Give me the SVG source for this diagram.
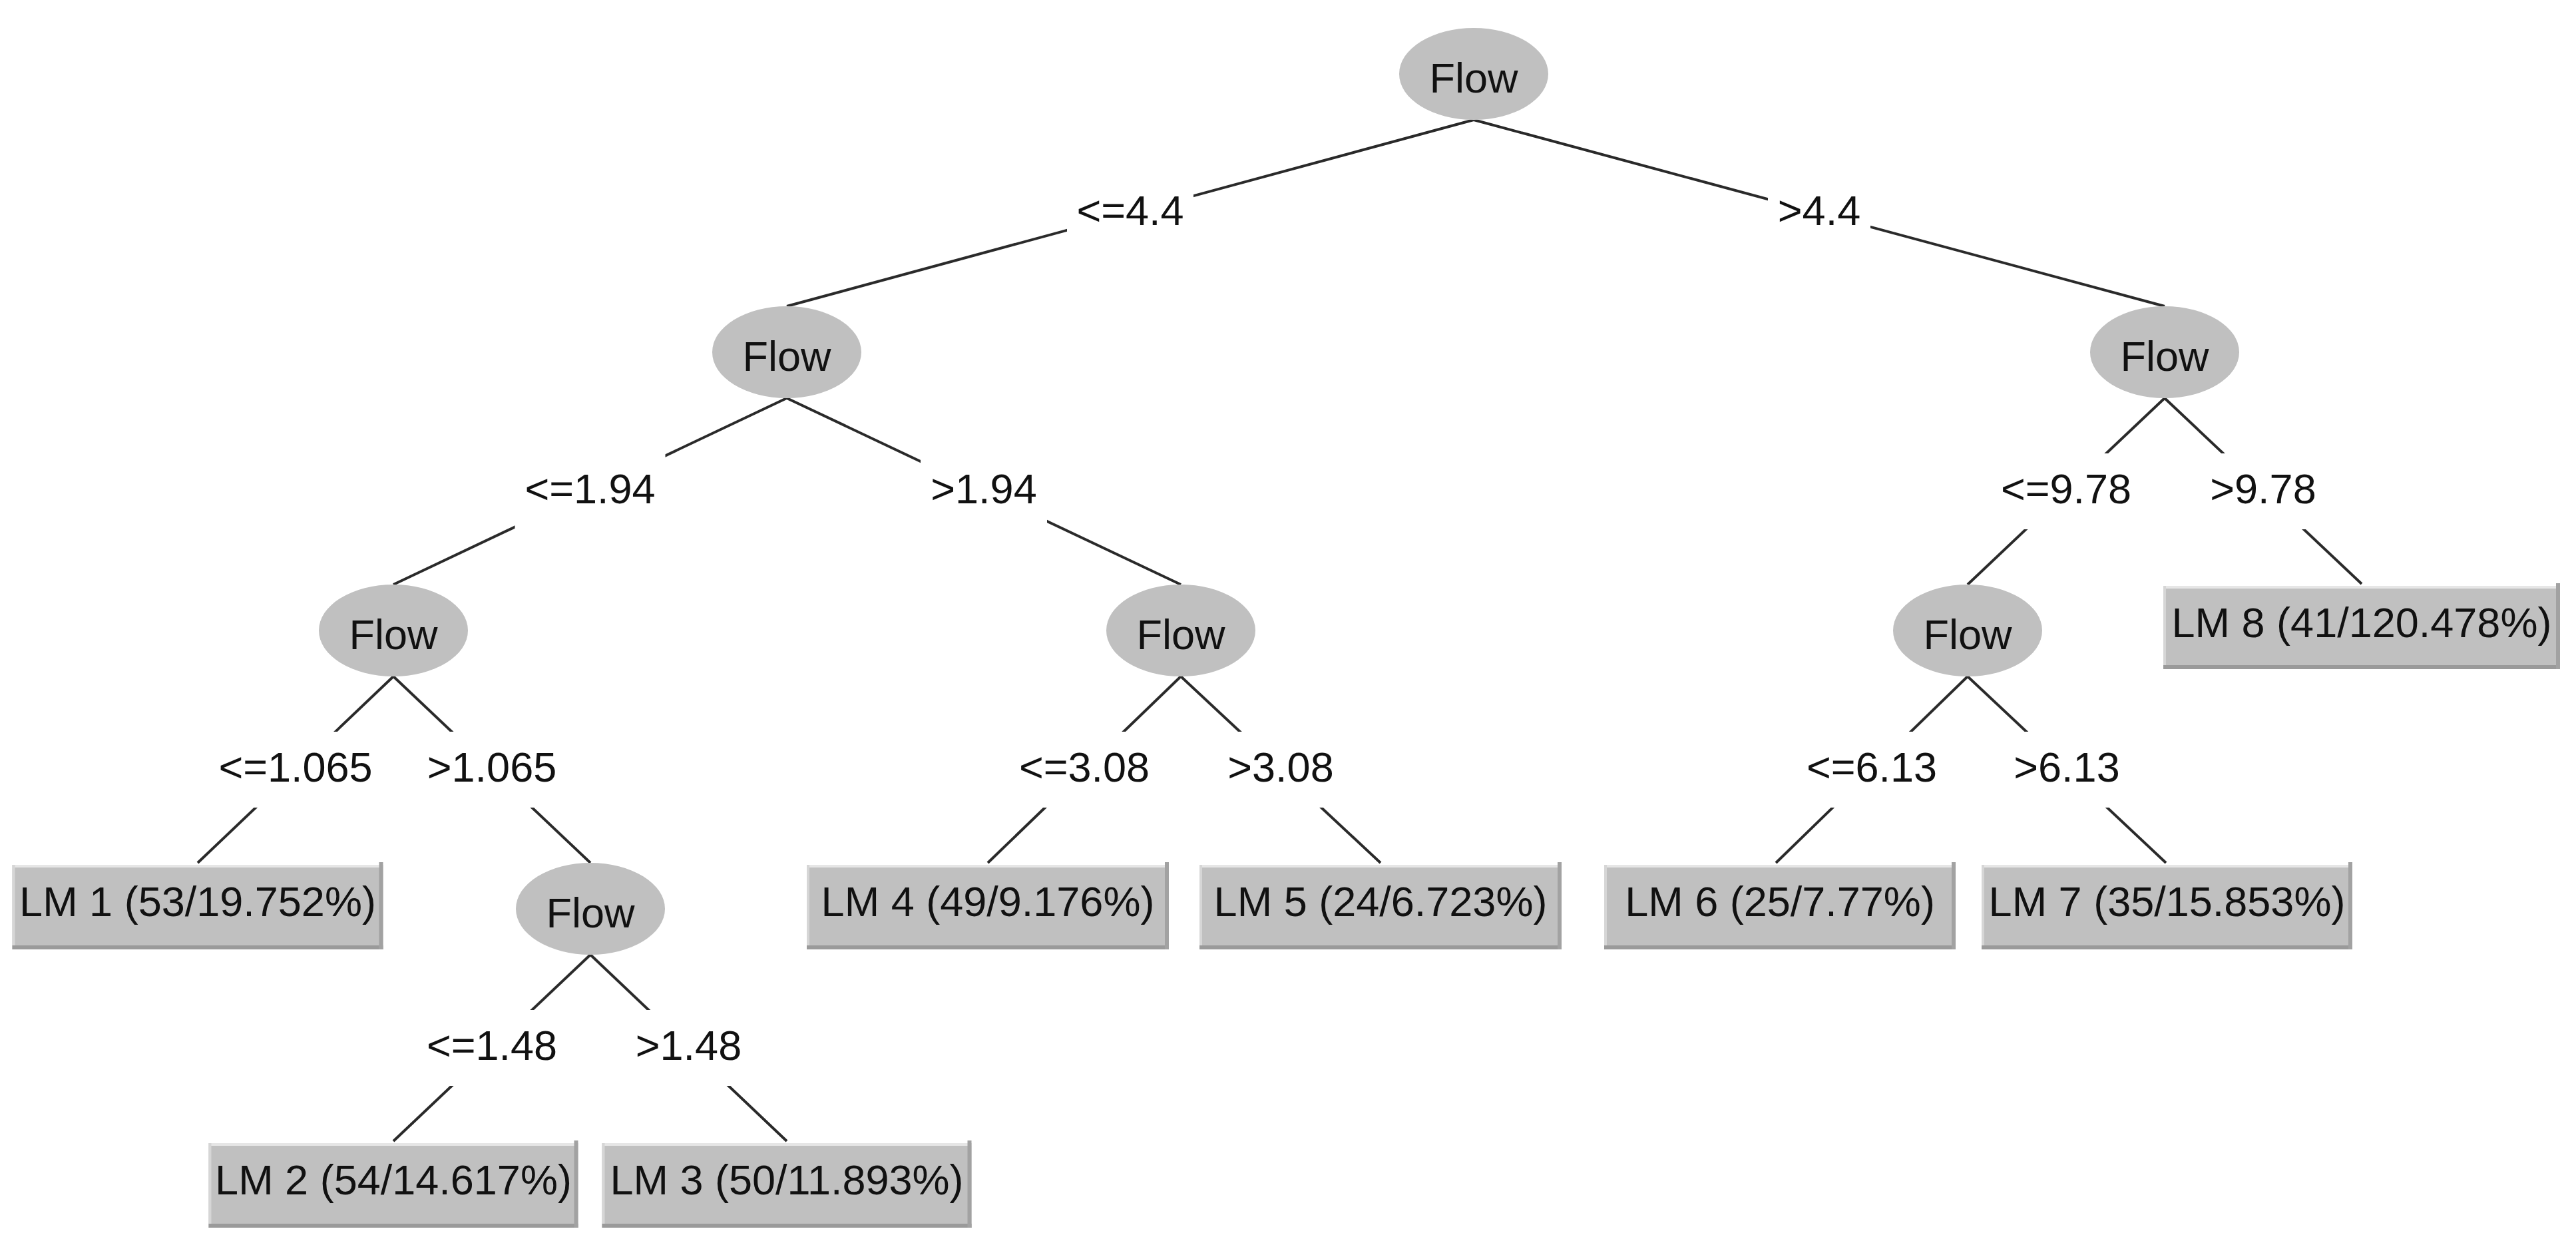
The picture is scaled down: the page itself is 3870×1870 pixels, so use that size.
<svg xmlns="http://www.w3.org/2000/svg" width="3870" height="1870" viewBox="0 0 3870 1870">
<style>
  .bg { fill: #ffffff; }
  .edge { stroke: #2a2a2a; stroke-width: 4; fill: none; }
  .gap { fill: #ffffff; }
  .t { font-family: "Liberation Sans", Arial, sans-serif; font-size: 63px; fill: #111111; text-anchor: middle; }
  .ell { fill: #c0c0c0; }
  .box { fill: #c0c0c0; }
  .hlt { fill: #e6e6e6; }
  .hll { fill: #d6d6d6; }
  .shb { fill: #9a9a9a; }
  .shr { fill: #a2a2a2; }
</style>
<rect class="bg" x="0" y="0" width="3870" height="1870"/>

<g id="connectors">
  <line class="edge" x1="2214" y1="180" x2="1182" y2="460"/>
  <line class="edge" x1="2214" y1="180" x2="3252" y2="460"/>
  <line class="edge" x1="1182" y1="598" x2="591" y2="878"/>
  <line class="edge" x1="1182" y1="598" x2="1774" y2="878"/>
  <line class="edge" x1="591" y1="1016" x2="297" y2="1296"/>
  <line class="edge" x1="591" y1="1016" x2="887" y2="1296"/>
  <line class="edge" x1="887" y1="1434" x2="591" y2="1714"/>
  <line class="edge" x1="887" y1="1434" x2="1182" y2="1714"/>
  <line class="edge" x1="1774" y1="1016" x2="1484" y2="1296"/>
  <line class="edge" x1="1774" y1="1016" x2="2074" y2="1296"/>
  <line class="edge" x1="3252" y1="598" x2="2956" y2="878"/>
  <line class="edge" x1="3252" y1="598" x2="3548" y2="877"/>
  <line class="edge" x1="2956" y1="1016" x2="2668" y2="1296"/>
  <line class="edge" x1="2956" y1="1016" x2="3254" y2="1296"/>

  <rect class="gap" x="1603" y="263" width="190" height="114"/>
  <text class="t" x="1698" y="338">&lt;=4.4</text>
  <rect class="gap" x="2656" y="263" width="154" height="114"/>
  <text class="t" x="2733" y="338">&gt;4.4</text>

  <rect class="gap" x="773.5" y="681" width="226" height="114"/>
  <text class="t" x="886.5" y="756">&lt;=1.94</text>
  <rect class="gap" x="1383" y="681" width="190" height="114"/>
  <text class="t" x="1478" y="756">&gt;1.94</text>

  <rect class="gap" x="313" y="1099" width="262" height="114"/>
  <text class="t" x="444" y="1174">&lt;=1.065</text>
  <rect class="gap" x="627" y="1099" width="224" height="114"/>
  <text class="t" x="739" y="1174">&gt;1.065</text>

  <rect class="gap" x="626" y="1517" width="226" height="114"/>
  <text class="t" x="739" y="1592">&lt;=1.48</text>
  <rect class="gap" x="939.5" y="1517" width="190" height="114"/>
  <text class="t" x="1034.5" y="1592">&gt;1.48</text>

  <rect class="gap" x="1516" y="1099" width="226" height="114"/>
  <text class="t" x="1629" y="1174">&lt;=3.08</text>
  <rect class="gap" x="1829" y="1099" width="190" height="114"/>
  <text class="t" x="1924" y="1174">&gt;3.08</text>

  <rect class="gap" x="2991" y="681" width="226" height="114"/>
  <text class="t" x="3104" y="756">&lt;=9.78</text>
  <rect class="gap" x="3305" y="681" width="190" height="114"/>
  <text class="t" x="3400" y="756">&gt;9.78</text>

  <rect class="gap" x="2699" y="1099" width="226" height="114"/>
  <text class="t" x="2812" y="1174">&lt;=6.13</text>
  <rect class="gap" x="3010" y="1099" width="190" height="114"/>
  <text class="t" x="3105" y="1174">&gt;6.13</text>
</g>

<g id="node-root">
  <ellipse class="ell" cx="2214" cy="111" rx="112" ry="69"/>
  <text class="t" x="2214" y="139">Flow</text>
</g>
<g id="node-L">
  <ellipse class="ell" cx="1182" cy="529" rx="112" ry="69"/>
  <text class="t" x="1182" y="557">Flow</text>
</g>
<g id="node-R">
  <ellipse class="ell" cx="3252" cy="529" rx="112" ry="69"/>
  <text class="t" x="3252" y="557">Flow</text>
</g>
<g id="node-LL">
  <ellipse class="ell" cx="591" cy="947" rx="112" ry="69"/>
  <text class="t" x="591" y="975">Flow</text>
</g>
<g id="node-LR">
  <ellipse class="ell" cx="1774" cy="947" rx="112" ry="69"/>
  <text class="t" x="1774" y="975">Flow</text>
</g>
<g id="node-RL">
  <ellipse class="ell" cx="2956" cy="947" rx="112" ry="69"/>
  <text class="t" x="2956" y="975">Flow</text>
</g>
<g id="node-LLR">
  <ellipse class="ell" cx="887" cy="1365" rx="112" ry="69"/>
  <text class="t" x="887" y="1393">Flow</text>
</g>

<g id="leaf-LM1">
  <rect class="box" x="18.5" y="1299" width="557" height="127"/>
  <rect class="hlt" x="18.5" y="1299" width="557" height="4"/>
  <rect class="hll" x="18.5" y="1299" width="4" height="127"/>
  <rect class="shb" x="18.5" y="1420" width="557" height="6"/>
  <rect class="shr" x="569.5" y="1295" width="6" height="131"/>
  <text class="t" x="297" y="1376">LM 1 (53/19.752%)</text>
</g>
<g id="leaf-LM2">
  <rect class="box" x="313.5" y="1717" width="555" height="127"/>
  <rect class="hlt" x="313.5" y="1717" width="555" height="4"/>
  <rect class="hll" x="313.5" y="1717" width="4" height="127"/>
  <rect class="shb" x="313.5" y="1838" width="555" height="6"/>
  <rect class="shr" x="862.5" y="1713" width="6" height="131"/>
  <text class="t" x="591" y="1794">LM 2 (54/14.617%)</text>
</g>
<g id="leaf-LM3">
  <rect class="box" x="904.5" y="1717" width="555" height="127"/>
  <rect class="hlt" x="904.5" y="1717" width="555" height="4"/>
  <rect class="hll" x="904.5" y="1717" width="4" height="127"/>
  <rect class="shb" x="904.5" y="1838" width="555" height="6"/>
  <rect class="shr" x="1453.5" y="1713" width="6" height="131"/>
  <text class="t" x="1182" y="1794">LM 3 (50/11.893%)</text>
</g>
<g id="leaf-LM4">
  <rect class="box" x="1212" y="1299" width="544" height="127"/>
  <rect class="hlt" x="1212" y="1299" width="544" height="4"/>
  <rect class="hll" x="1212" y="1299" width="4" height="127"/>
  <rect class="shb" x="1212" y="1420" width="544" height="6"/>
  <rect class="shr" x="1750" y="1295" width="6" height="131"/>
  <text class="t" x="1484" y="1376">LM 4 (49/9.176%)</text>
</g>
<g id="leaf-LM5">
  <rect class="box" x="1802" y="1299" width="544" height="127"/>
  <rect class="hlt" x="1802" y="1299" width="544" height="4"/>
  <rect class="hll" x="1802" y="1299" width="4" height="127"/>
  <rect class="shb" x="1802" y="1420" width="544" height="6"/>
  <rect class="shr" x="2340" y="1295" width="6" height="131"/>
  <text class="t" x="2074" y="1376">LM 5 (24/6.723%)</text>
</g>
<g id="leaf-LM6">
  <rect class="box" x="2410" y="1299" width="528" height="127"/>
  <rect class="hlt" x="2410" y="1299" width="528" height="4"/>
  <rect class="hll" x="2410" y="1299" width="4" height="127"/>
  <rect class="shb" x="2410" y="1420" width="528" height="6"/>
  <rect class="shr" x="2932" y="1295" width="6" height="131"/>
  <text class="t" x="2674" y="1376">LM 6 (25/7.77%)</text>
</g>
<g id="leaf-LM7">
  <rect class="box" x="2977" y="1299" width="557" height="127"/>
  <rect class="hlt" x="2977" y="1299" width="557" height="4"/>
  <rect class="hll" x="2977" y="1299" width="4" height="127"/>
  <rect class="shb" x="2977" y="1420" width="557" height="6"/>
  <rect class="shr" x="3528" y="1295" width="6" height="131"/>
  <text class="t" x="3255.5" y="1376">LM 7 (35/15.853%)</text>
</g>
<g id="leaf-LM8">
  <rect class="box" x="3250" y="880" width="596" height="125"/>
  <rect class="hlt" x="3250" y="880" width="596" height="4"/>
  <rect class="hll" x="3250" y="880" width="4" height="125"/>
  <rect class="shb" x="3250" y="999" width="596" height="6"/>
  <rect class="shr" x="3840" y="876" width="6" height="129"/>
  <text class="t" x="3548" y="957">LM 8 (41/120.478%)</text>
</g>
</svg>
